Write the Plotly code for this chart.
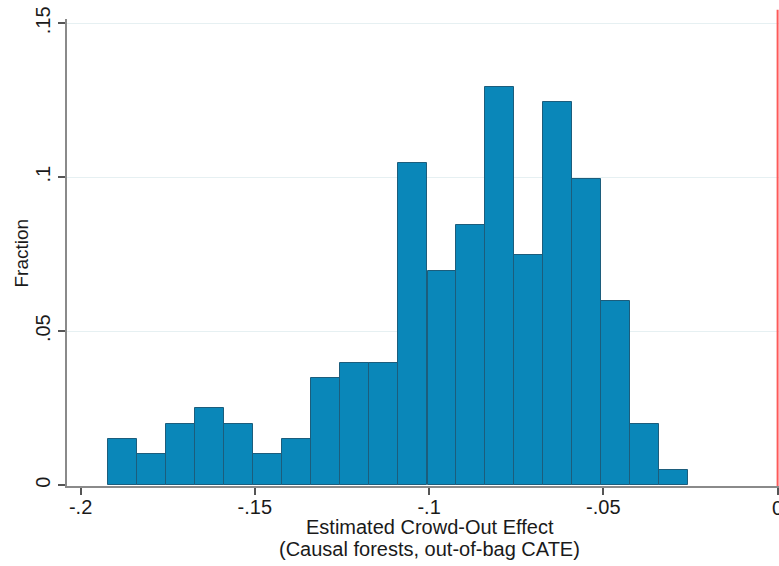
import plotly.graph_objects as go

# Bin centers (estimated crowd-out effect) and fraction per bin
bin_centers = [-0.1879, -0.1796, -0.1713, -0.1629, -0.1546, -0.1463, -0.1380, -0.1296,
               -0.1213, -0.1130, -0.1047, -0.0963, -0.0880, -0.0797, -0.0714, -0.0631,
               -0.0547, -0.0464, -0.0381, -0.0298]
fractions = [0.0149, 0.0100, 0.0199, 0.0249, 0.0199, 0.0100, 0.0149, 0.0348,
             0.0398, 0.0398, 0.1045, 0.0697, 0.0846, 0.1294, 0.0746, 0.1244,
             0.0995, 0.0597, 0.0199, 0.0050]
bin_width = 0.00832

x_tickvals = [-0.2, -0.15, -0.1, -0.05, 0]
x_ticktext = ["-.2", "-.15", "-.1", "-.05", ""]
y_tickvals = [0, 0.05, 0.1, 0.15]
y_ticktext = ["0", ".05", ".1", ".15"]

FONT = "Liberation Sans, Arial, Helvetica, sans-serif"
TXT = "#1a1a1a"

W, H = 779, 566
ML, MR, MT, MB = 67, 0, 19, 80
PW = W - ML - MR
PH = H - MT - MB


def px_to_paper_x(px):
    return (px - ML) / PW


def px_to_paper_y(py):
    return (H - MB - py) / PH


fig = go.Figure()
fig.add_trace(go.Bar(
    x=bin_centers, y=fractions, width=bin_width,
    marker=dict(color="#0a87b9", line=dict(color="#1c5d7c", width=1)),
    showlegend=False, hoverinfo="x+y",
))

# red vertical reference line at 0
fig.add_shape(type="line", xref="x", yref="paper", x0=0, x1=0, y0=0, y1=1.02,
              line=dict(color="#ff5a5a", width=2), layer="above")

fig.update_layout(
    width=W, height=H,
    margin=dict(l=ML, r=MR, t=MT, b=MB, pad=0),
    paper_bgcolor="white", plot_bgcolor="white",
    bargap=0,
    font=dict(family=FONT, size=20, color=TXT),
    xaxis=dict(
        range=[-0.2039, 0.0004], tickvals=x_tickvals, ticktext=x_ticktext,
        showgrid=False, zeroline=False, showline=True, linecolor="#8a8a8a", linewidth=2,
        ticks="outside", ticklen=7, tickwidth=1.5, tickcolor="#555",
        tickfont=dict(size=20, color=TXT), ticklabelstandoff=-5,
    ),
    yaxis=dict(
        range=[-0.0003, 0.1514], tickvals=y_tickvals, ticktext=y_ticktext,
        showgrid=True, gridcolor="#e6f0f2", gridwidth=1, zeroline=False,
        showline=True, linecolor="#8a8a8a", linewidth=2,
        ticks="outside", ticklen=7, tickwidth=1.5, tickcolor="#555",
        tickangle=-90, tickfont=dict(size=20, color=TXT),
    ),
    annotations=[
        # last x tick label (partly cut by the right edge, as in the reference)
        dict(text="0", xref="x", yref="paper", x=0, y=px_to_paper_y(508),
             xanchor="center", yanchor="middle", showarrow=False,
             font=dict(size=20, color=TXT)),
        dict(text="Fraction", xref="paper", yref="paper", x=px_to_paper_x(21), y=0.5,
             xanchor="center", yanchor="middle", textangle=-90, showarrow=False,
             font=dict(size=19, color=TXT)),
        dict(text="Estimated Crowd-Out Effect",
             xref="paper", yref="paper", x=px_to_paper_x(429.5), y=px_to_paper_y(527),
             xanchor="center", yanchor="middle", showarrow=False,
             font=dict(size=20, color=TXT)),
        dict(text="(Causal forests, out-of-bag CATE)",
             xref="paper", yref="paper", x=px_to_paper_x(429.5), y=px_to_paper_y(549),
             xanchor="center", yanchor="middle", showarrow=False,
             font=dict(size=20, color=TXT)),
    ],
)

fig.write_html("out.html")
